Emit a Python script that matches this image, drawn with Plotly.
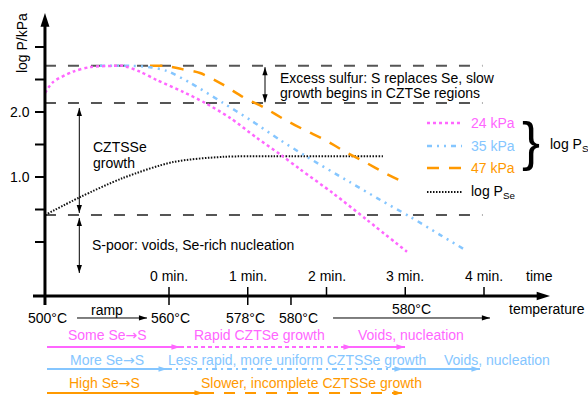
import plotly.graph_objects as go

# ---- data: time in minutes after the ramp (0 = 560 °C), values in log P / kPa ----
t_24 = [-1.575, -1.473, -1.219, -1.003, -0.711, -0.584, -0.368, -0.152, 0.178, 0.457,
        0.775, 1.117, 1.410, 1.663, 2.083, 2.514, 3.022]
p_24 = [2.29, 2.46, 2.62, 2.69, 2.71, 2.71, 2.62, 2.49, 2.31, 2.14,
        1.91, 1.60, 1.35, 1.12, 0.75, 0.34, -0.15]

t_35 = [-0.876, -0.495, -0.241, -0.025, 0.267, 0.686, 1.029, 1.410, 1.752, 2.298,
        2.679, 3.060, 3.441, 3.759]
p_35 = [2.71, 2.71, 2.69, 2.63, 2.45, 2.14, 1.88, 1.57, 1.31, 0.92,
        0.65, 0.39, 0.11, -0.12]

t_47 = [-0.241, -0.051, 0.165, 0.394, 0.686, 0.940, 1.219, 1.473, 1.727, 1.981,
        2.235, 2.489, 2.743, 2.997]
p_47 = [2.71, 2.71, 2.66, 2.60, 2.42, 2.23, 2.06, 1.88, 1.72, 1.57,
        1.39, 1.23, 1.06, 0.91]

t_se = [-1.575, -1.130, -0.584, 0.051, 0.686, 1.321, 2.717]
p_se = [0.415, 0.69, 0.985, 1.23, 1.31, 1.32, 1.32]

# region boundaries (log P)
p_excess_top = 2.71
p_excess_bottom = 2.14
p_poor = 0.415

y_ticks = [0.0, 0.5, 1.0, 1.5, 2.0, 2.5, 3.0]
y_tick_labels = {1.0: "1.0", 2.0: "2.0"}

time_ticks = [0, 1, 2, 3, 4]
time_labels = ["0 min.", "1 min.", "2 min.", "3 min.", "4 min."]

temp_ticks = [0, 1, 1.549]
temp_label_t = [-1.54, 0.02, 0.97, 1.65]
temp_labels = ["500°C", "560°C", "578°C", "580°C"]

series_names = ["24 kPa", "35 kPa", "47 kPa"]

# ---- styling ----
FONT = "Liberation Sans, Arial, sans-serif"
PINK = "#ff66ff"
BLUE = "#85c6ff"
ORANGE = "#ff9900"
GREY = "#555555"
DASH_24 = "3px,3px"
DASH_35 = "5px,5px,2px,5px,2px,5px"
DASH_47 = "12px,10px"
DASH_SE = "1.5px,1.5px"
TO = '<span style="font-family:DejaVu Sans">→</span>'

X0 = -1.575      # position of the log P axis
T_AXIS = -0.831  # level of the time / temperature axis

fig = go.Figure()
annotations = []


def line(xs, ys, color="black", width=1.0, dash="solid", shape="linear"):
    fig.add_trace(go.Scatter(x=xs, y=ys, mode="lines", hoverinfo="skip",
                             line=dict(color=color, width=width, dash=dash,
                                       shape=shape, smoothing=0.8)))


def head(x, y, angle, color="black", size=8.5):
    fig.add_trace(go.Scatter(x=[x], y=[y], mode="markers", hoverinfo="skip",
                             marker=dict(symbol="arrow", angle=angle, size=size,
                                         color=color, line=dict(width=0))))


def arrow(x0, y0, x1, y1, color="black", width=1.0, dash="solid", size=8.5, both=False):
    line([x0, x1], [y0, y1], color, width, dash)
    if y0 == y1:
        ang = 90 if x1 > x0 else 270
    else:
        ang = 0 if y1 > y0 else 180
    head(x1, y1, ang, color, size)
    if both:
        head(x0, y0, (ang + 180) % 360, color, size)


def text(x, y, s, color="black", size=14, xanchor="center", angle=0, yanchor="middle"):
    annotations.append(dict(x=x, y=y, xref="x", yref="y", text=s, showarrow=False,
                            xanchor=xanchor, yanchor=yanchor, textangle=angle,
                            font=dict(family=FONT, size=size, color=color)))


# region boundaries
for p in (p_excess_top, p_excess_bottom, p_poor):
    line([X0, 3.98], [p, p], GREY, 2, "11px,12px")

# pressure curves
line(t_se, p_se, "#111111", 2, DASH_SE, "spline")
line(t_47, p_47, ORANGE, 2.5, DASH_47, "spline")
line(t_35, p_35, BLUE, 2.5, DASH_35, "spline")
line(t_24, p_24, PINK, 2.5, DASH_24, "spline")

# log P axis with ticks
line([X0, X0], [-0.969, 3.36], "black", 3)
head(X0, 3.523, 0, "black", 14.5)
tx, ty = [], []
for v in y_ticks:
    tx += [-1.702, X0, None]
    ty += [v, v, None]
line(tx, ty, "black", 2)
for v, s in y_tick_labels.items():
    text(-1.735, v, s, xanchor="right")
text(-1.867, 3.06, "log P/kPa", angle=-90)

# time / temperature axis
line([-1.727, 4.70], [T_AXIS, T_AXIS], "black", 3)
head(4.838, T_AXIS, 90, "black", 14)
tx, ty = [], []
for v in time_ticks:
    tx += [v, v, None]
    ty += [T_AXIS, -0.692, None]
for v in temp_ticks:
    tx += [v, v, None]
    ty += [T_AXIS, -0.969, None]
line(tx, ty, "black", 1.5)
for v, s in zip(time_ticks, time_labels):
    text(v, -0.523, s)
text(4.711, -0.523, "time")
for v, s in zip(temp_label_t, temp_labels):
    text(v, -1.169, s)
text(-0.787, -1.046, "ramp")
arrow(-1.168, -1.169, -0.279, -1.169)
text(3.073, -1.031, "580°C")
arrow(2.083, -1.169, 4.076, -1.169)
text(5.308, -1.031, "temperature", xanchor="right")

# region labels and arrows
arrow(1.219, 2.15, 1.219, 2.69, both=True)
text(1.384, 2.523, "Excess sulfur: S replaces Se, slow", xanchor="left")
text(1.384, 2.292, "growth begins in CZTSe regions", xanchor="left")
arrow(-1.139, 0.446, -1.139, 2.062, both=True)
text(-0.990, 1.462, "CZTSSe", xanchor="left")
text(-0.990, 1.215, "growth", xanchor="left")
arrow(-1.139, 0.369, -1.139, -0.477, both=True)
text(-1.003, -0.046, "S-poor: voids, Se-rich nucleation", xanchor="left")

# legend
leg_y = [1.831, 1.477, 1.138]
for yy, col, dsh, name in zip(leg_y, [PINK, BLUE, ORANGE], [DASH_24, DASH_35, DASH_47], series_names):
    line([3.276, 3.721], [yy, yy], col, 2.5, dsh)
    text(3.810, yy, name, color=col, xanchor="left")
line([3.276, 3.721], [0.769, 0.769], "#111111", 2, DASH_SE)
text(3.810, 0.769, "log P<sub>Se</sub>", xanchor="left")
text(4.597, 1.554, "}", size=54)
text(4.813, 1.492, "log P<sub>S</sub>", xanchor="left")

# outcome rows for each sulfur pressure
r1, r2, r3 = -1.615, -1.954, -2.323
text(-0.787, -1.431, "Some Se" + TO + "S", PINK)
text(1.143, -1.431, "Rapid CZTSe growth", PINK)
text(3.073, -1.431, "Voids, nucleation", PINK)
arrow(-1.549, r1, 0.140, r1, PINK, 2, size=9)
arrow(0.140, r1, 2.324, r1, PINK, 2, "4px,3px", size=9)
arrow(2.324, r1, 2.997, r1, PINK, 2, size=9)

text(-0.787, -1.815, "More Se" + TO + "S", BLUE)
text(1.625, -1.815, "Less rapid, more uniform CZTSSe growth", BLUE)
text(4.165, -1.815, "Voids, nucleation", BLUE)
arrow(-1.549, r2, -0.025, r2, BLUE, 2, size=9)
arrow(-0.025, r2, 2.971, r2, BLUE, 2, "5px,4px,2px,4px", size=9)
arrow(2.971, r2, 3.949, r2, BLUE, 2, size=9)

text(-0.813, -2.169, "High Se" + TO + "S", ORANGE)
text(1.81, -2.169, "Slower, incomplete CZTSSe growth", ORANGE)
arrow(-1.549, r3, 0.432, r3, ORANGE, 2, size=9)
arrow(0.432, r3, 2.959, r3, ORANGE, 2, "11px,10px", size=9)

fig.update_layout(
    width=588, height=395,
    margin=dict(l=0, r=0, t=0, b=0),
    paper_bgcolor="white", plot_bgcolor="white",
    showlegend=False,
    xaxis=dict(range=[-2.146, 5.3206], visible=False, fixedrange=True),
    yaxis=dict(range=[-2.3538, 3.7231], visible=False, fixedrange=True),
    annotations=annotations,
)

fig.write_html("out.html", config={"displayModeBar": False})
